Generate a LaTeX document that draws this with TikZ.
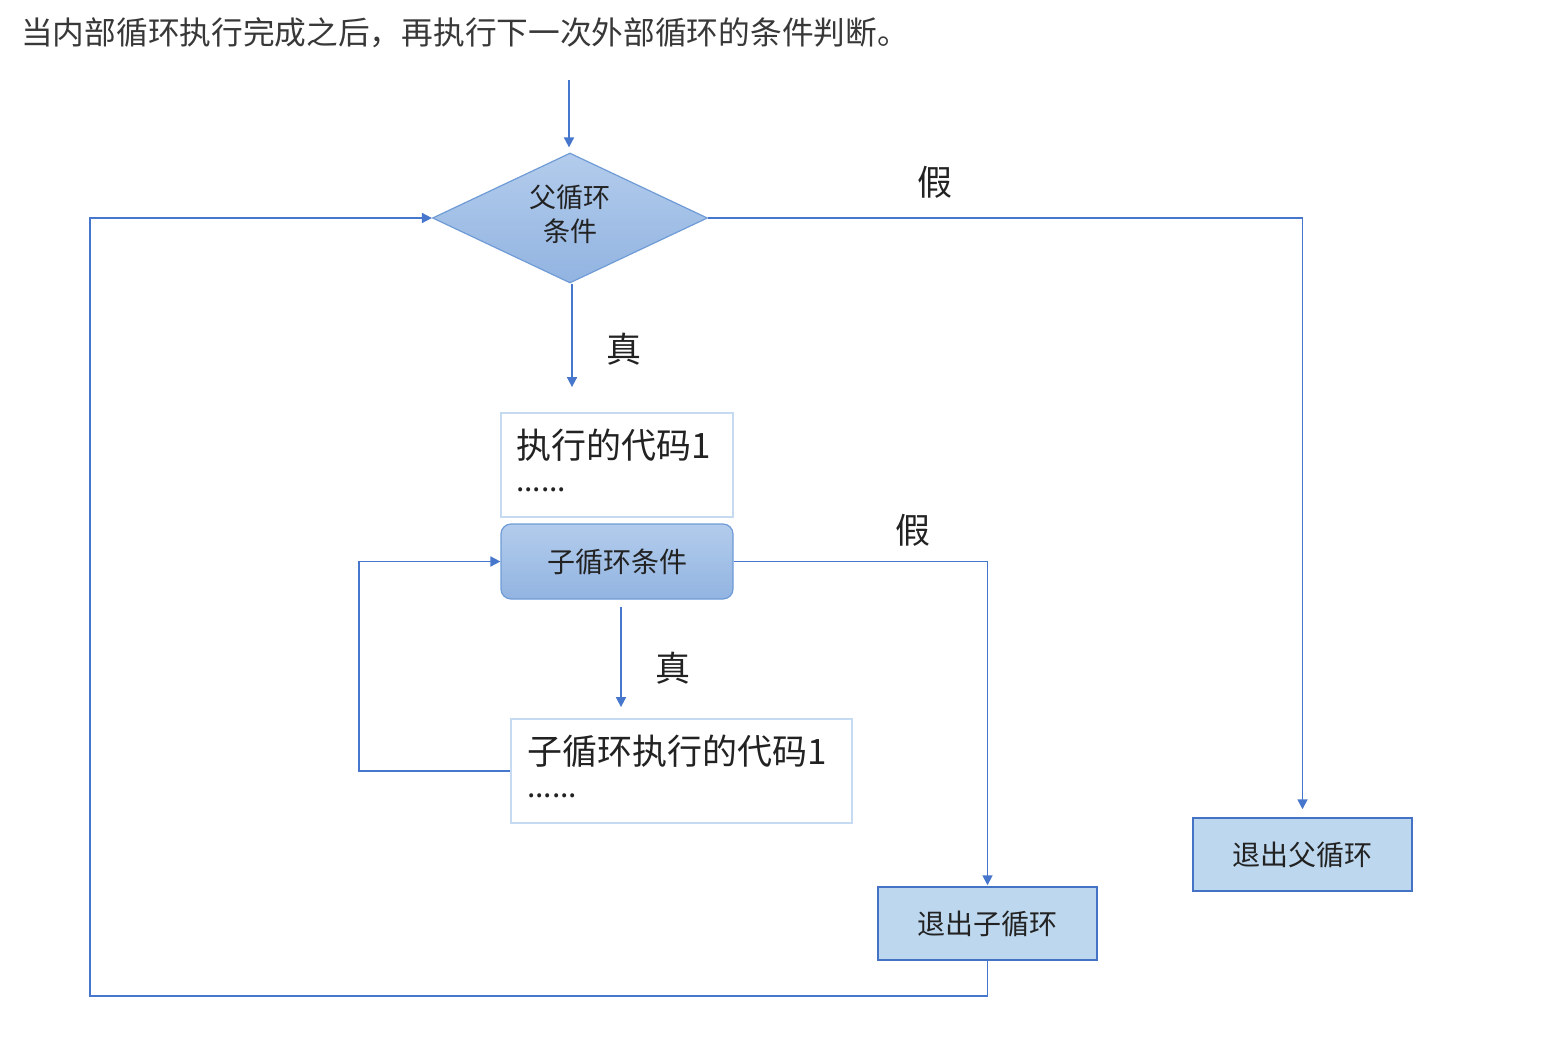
\documentclass[tikz,border=0pt]{standalone}
\usepackage{fontspec}
\newfontfamily\cjk{Noto Sans CJK SC}
\usetikzlibrary{shapes.geometric,arrows.meta}
\definecolor{lineblue}{HTML}{4677CC}
\definecolor{boxedge}{HTML}{C6DAF1}
\definecolor{exitfill}{HTML}{BDD7EE}
\definecolor{exitedge}{HTML}{4472C4}
\definecolor{condtop}{HTML}{B3CCEC}
\definecolor{condbot}{HTML}{92B4E1}
\definecolor{condedge}{HTML}{6F9BD6}
\definecolor{titlegray}{HTML}{383838}
\definecolor{txt}{HTML}{222222}
\tikzset{
  conn/.style={draw=lineblue, line width=1.7pt},
  arr/.style={conn, -{Triangle[width=10pt,length=10pt]}},
  codebox/.style={draw=boxedge, line width=1.8pt, fill=white, minimum height=104pt, inner ysep=0pt, text=txt, font=\cjk\fontsize{35}{42}\selectfont},
  condbox/.style={draw=condedge, line width=1.2pt, top color=condtop, bottom color=condbot, rounded corners=10pt, text=txt, inner sep=0pt},
  exitbox/.style={draw=exitedge, line width=1.5pt, fill=exitfill, minimum width=219pt, minimum height=73pt, inner sep=0pt, text=txt, font=\cjk\fontsize{28}{32}\selectfont},
  lbl/.style={text=txt, font=\cjk\fontsize{35}{40}\selectfont, inner sep=0pt}
}
\begin{document}
\begin{tikzpicture}[x=1pt,y=-1pt]
\useasboundingbox (0,0) rectangle (1542,1050);
% title
\node[anchor=west, inner sep=0pt, text=titlegray, font=\cjk\fontsize{31.7}{34}\selectfont] (title) at (21,33) {当内部循环执行完成之后，再执行下一次外部循环的条件判断。};
% nodes
\node[condbox, diamond, aspect=2.115, minimum width=275pt, minimum height=130pt, rounded corners=0pt, font=\cjk\fontsize{27}{34}\selectfont] (cond) at (570,218) {\raisebox{4pt}[\height][\depth]{\parbox{100pt}{\centering 父循环\\条件}}};
\node[codebox, inner xsep=15pt] (code1) at (617,465) {\raisebox{5pt}[\height][\depth]{\parbox{202pt}{执行的代码1\\[-9pt]{\fontsize{30}{30}\selectfont ......}}}};
\node[condbox, minimum width=232pt, minimum height=75pt, font=\cjk\fontsize{28}{32}\selectfont] (subcond) at (617,561.5) {子循环条件};
\node[codebox, inner xsep=16pt] (subcode) at (681.5,771) {\raisebox{5pt}[\height][\depth]{\parbox{309pt}{子循环执行的代码1\\[-9pt]{\fontsize{30}{30}\selectfont ......}}}};
\node[exitbox] (exitsub) at (987.5,923.5) {退出子循环};
\node[exitbox] (exitpar) at (1302.5,854.5) {退出父循环};
% labels
\node[lbl] (t1) at (624,349) {真};
\node[lbl] (f1) at (935,182) {假};
\node[lbl] (f2) at (913,530) {假};
\node[lbl] (t2) at (673,668) {真};
% helper coordinates
\coordinate (start) at (569,80);
\coordinate (loopL) at (359,0);
\coordinate (outerL) at (90,0);
\coordinate (bottomY) at (0,996);
% connectors
\draw[arr, shorten >=5pt] (start) -- (start |- cond.north);
\draw[arr, shorten >=25pt] ([xshift=2pt]cond.south) -- ([xshift=2pt]cond.south |- code1.north);
\draw[arr, shorten >=8pt] (cond.east) -- (exitpar.north |- cond.east) -- (exitpar.north);
\draw[arr, shorten >=1pt] (subcond.east) -- (exitsub.north |- subcond.east) -- (exitsub.north);
\draw[arr, shorten <=7pt, shorten >=11pt] ([xshift=4pt]subcond.south) -- ([xshift=4pt]subcond.south |- subcode.north);
\draw[arr] (subcode.west) -- (subcode.west -| loopL) -- (subcond.west -| loopL) -- (subcond.west);
\draw[arr] (exitsub.south) -- (exitsub.south |- bottomY) -- (outerL |- bottomY) -- (outerL |- cond.west) -- (cond.west);
\end{tikzpicture}
\end{document}
